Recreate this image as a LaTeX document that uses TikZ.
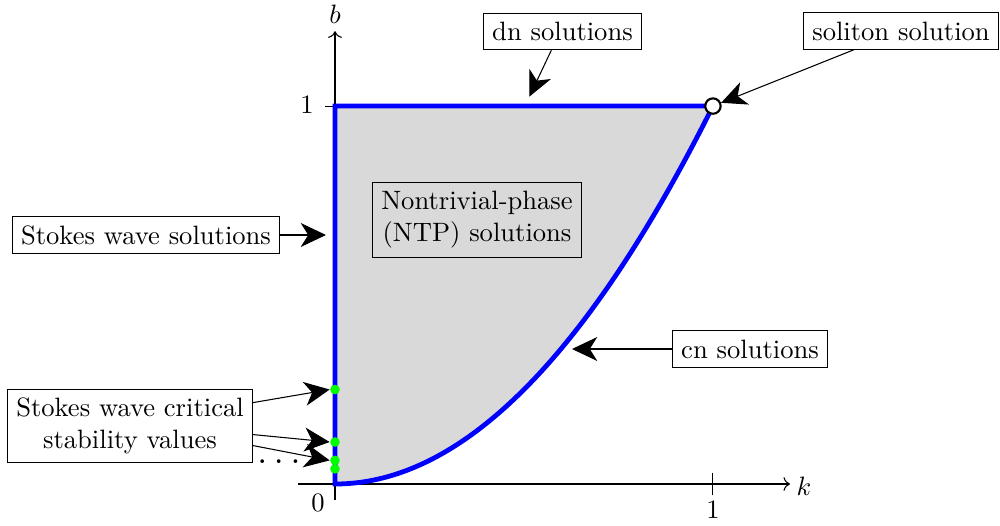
\documentclass[tikz,border=0pt]{standalone}
\usetikzlibrary{arrows.meta,calc}
\begin{document}
\begin{tikzpicture}[x=0.0132275cm,y=-0.0132275cm,
  lbl/.style={draw, fill=white, align=center},
  ptr/.style={-{Stealth[length=9.5pt,width=9pt,inset=2.8pt]}},
  gdot/.style={circle, fill=green, inner sep=0pt, minimum size=3.6pt},
  curvecol/.style={blue, line width=1.8pt}]
\useasboundingbox (0,0) rectangle (1000,526);
\coordinate (O) at (335,484);
\begin{scope}[shift={(O)}, x=5cm, y=5cm]
  \fill[gray!30] (0,0) -- (0,1) -- (1,1) -- plot[domain=1:0, samples=60, smooth] (\x,{\x*\x}) -- cycle;
  \draw[->] (-0.098,0) -- (1.204,0) coordinate (kend);
  \draw[->] (0,-0.042) -- (0,1.198) coordinate (bend);
  \draw (1,-0.03) -- (1,0.03);
  \draw (-0.027,1) -- (0.027,1);
  \draw[curvecol] (1,1) -- (0,1) -- (0,0) -- plot[domain=0:1, samples=60, smooth] (\x,{\x*\x});
  \node[gdot] (g1) at (0,1/4) {};
  \node[gdot] (g2) at (0,1/9) {};
  \node[gdot] (g3) at (0,1/16) {};
  \node[gdot] (g4) at (0,1/25) {};
  \node[circle, draw, thick, fill=white, inner sep=0pt, minimum size=5.8pt] (sol) at (1,1) {};
\end{scope}
% axis labels
\node (klab) at (804,486) {$k$};
\node (blab) at (335,14) {$b$};
\node (zero) at (318,503) {0};
\node (kone) at (713,510) {1};
\node (bone) at (307,105) {1};
% boxes
\node[lbl] (dn) at (562.5,31.5) {dn solutions};
\node[lbl] (soliton) at (901,31) {soliton solution};
\node[lbl] (stokes) at (146,235) {Stokes wave solutions};
\node[draw, fill=gray!30, align=center] (ntp) at (477,220) {Nontrivial-phase\\(NTP) solutions};
\node[lbl] (cn) at (750,349) {cn solutions};
\node[lbl] (crit) at (130,426) {Stokes wave critical\\stability values};
\node (dots) at (279,462) {\Large$\ldots$};
% arrow ends
\coordinate (dntip) at (529.3,96.7);
\coordinate (sttip) at (326,235);
\coordinate (cntip) at (572,349);
% arrows
\draw[ptr] ($(dn.south west)!0.43!(dn.south east)$) -- (dntip);
\draw[ptr] ($(soliton.south west)!0.26!(soliton.south east)$) -- (sol);
\draw[ptr] (stokes.east) -- (sttip);
\draw[ptr] (cn.west) -- (cntip);
\draw[ptr] ($(crit.north east)+(0,14)$) -- (g1.west);
\draw[ptr] ($(crit.north east)+(0,46)$) -- (g2.west);
\draw[ptr] ($(crit.north east)+(0,57)$) -- (g3.west);
\end{tikzpicture}
\end{document}
